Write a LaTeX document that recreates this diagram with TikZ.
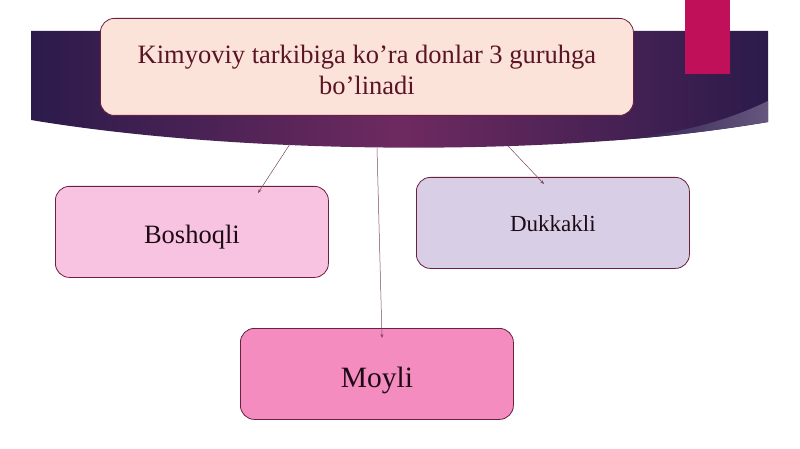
\documentclass[tikz,border=0pt]{standalone}
\usepackage{fontspec}
\setmainfont{Liberation Serif}
\definecolor{bandark}{HTML}{2B1B4B}
\definecolor{banmid}{HTML}{6E2A60}
\definecolor{banlight}{HTML}{66577F}
\definecolor{accent}{HTML}{C0105A}
\definecolor{edge}{HTML}{6B2040}
\definecolor{titlefill}{HTML}{FCE3DA}
\definecolor{titletext}{HTML}{5A1525}
\definecolor{boshfill}{HTML}{F8C3E0}
\definecolor{dukfill}{HTML}{D8CEE5}
\definecolor{moyfill}{HTML}{F48CC0}
\definecolor{boxtext}{HTML}{1E0A14}
\definecolor{linkcol}{HTML}{7A4A5A}
\tikzset{
  groupbox/.style={draw=edge, line width=0.8pt, rounded corners=14pt, minimum width=273pt, minimum height=91pt, inner sep=0pt, text=boxtext, anchor=north west},
  link/.style={draw=linkcol, line width=0.5pt, -{Stealth[length=4pt,width=3pt]}}
}
\usetikzlibrary{arrows.meta}
\begin{document}
\begin{tikzpicture}[x=1pt,y=-1pt]
\useasboundingbox (0,0) rectangle (800,449);
% banner
\shade[left color=bandark, right color=bandark, middle color=banmid]
  (31,31) -- (768,31) -- (768,122) .. controls (560,158) and (240,155) .. (31,120) -- cycle;
\shade[left color=bandark, right color=banlight]
  (610,140.5) .. controls (680,136) and (730,128) .. (768,122) -- (768,101) .. controls (720,124) and (675,134) .. (610,140.5) -- cycle;
% accent bar
\fill[accent] (685,0) rectangle (730,74);
% title
\node[draw=edge, line width=0.8pt, fill=titlefill, rounded corners=14pt, minimum width=533pt, minimum height=97pt, anchor=north west, inner sep=0pt] (title) at (100,18) {};
\node[text=titletext, align=center, inner sep=0pt, font=\fontsize{26.5}{31}\selectfont] (titlelabel) at ([yshift=-3pt]title.center)
  {Kimyoviy tarkibiga ko’ra donlar 3 guruhga\\bo’linadi};
% group boxes
\node[groupbox, fill=boshfill, font=\fontsize{26.5}{30}\selectfont] (bosh) at (55,186) {\raisebox{-11.5pt}[0pt][0pt]{Boshoqli}};
\node[groupbox, fill=dukfill, font=\fontsize{23}{28}\selectfont] (duk) at (416,177) {\raisebox{-9pt}[0pt][0pt]{Dukkakli}};
\node[groupbox, fill=moyfill, font=\fontsize{29.5}{34}\selectfont] (moy) at (240,328) {\raisebox{-14pt}[0pt][0pt]{Moyli}};
% link start points on banner edge
\coordinate (s1) at (290,144);
\coordinate (s2) at (377,148);
\coordinate (s3) at (508,146);
\coordinate (e1) at (258,193);
\coordinate (e2) at (382,338);
\coordinate (e3) at (544,184);
\draw[link] (s1) -- (e1);
\draw[link] (s2) -- (e2);
\draw[link] (s3) -- (e3);
\end{tikzpicture}
\end{document}
